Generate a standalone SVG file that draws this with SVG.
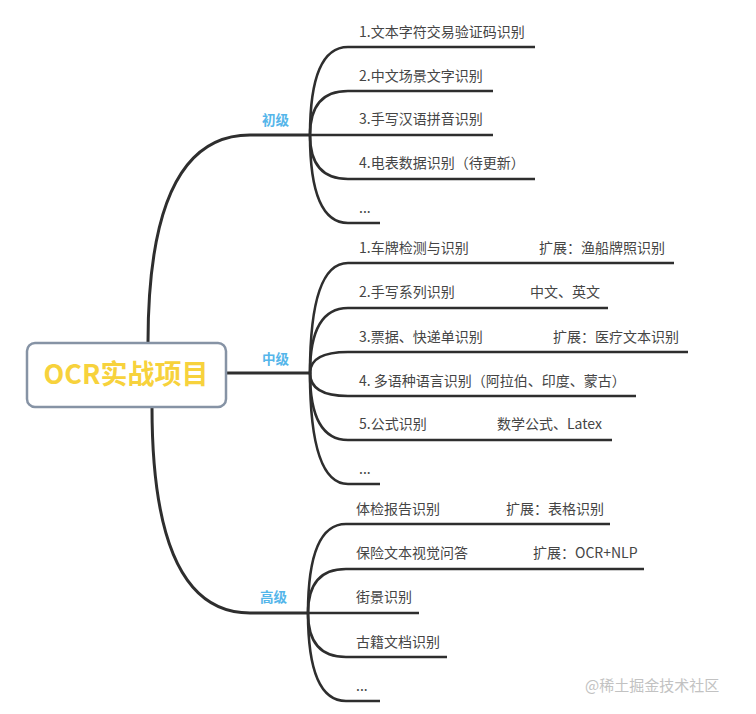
<svg xmlns="http://www.w3.org/2000/svg" width="756" height="714" viewBox="0 0 756 714">
<style>
.t{font-family:"Noto Sans CJK SC","Noto Sans",sans-serif;font-size:14px;fill:#454545}
.b{font-family:"Noto Sans CJK SC","Noto Sans",sans-serif;font-size:13.5px;font-weight:bold;fill:#55b6ea}
.m{fill:none;stroke:#2e2e2e;stroke-width:3;stroke-linecap:round}
.c{fill:none;stroke:#2e2e2e;stroke-width:2.6;stroke-linecap:butt}
</style>
<rect width="756" height="714" fill="#ffffff"/>
<g id="connectors">
<path class="m" d="M148,343 Q148,135 250,135 L310,135"/>
<path class="m" d="M226,373 L310,373"/>
<path class="m" d="M152,407 Q152,613 250,613 L308,613"/>
<path class="c" d="M310,135 Q310,47 348,47 L535,47"/>
<path class="c" d="M310,135 Q310,91 348,91 L493,91"/>
<path class="c" d="M310,135 L493,135"/>
<path class="c" d="M310,135 Q310,179 348,179 L535,179"/>
<path class="c" d="M310,135 Q310,223 348,223 L380,223"/>
<path class="c" d="M310,373 Q310,263 348,263 L674,263"/>
<path class="c" d="M310,373 Q310,308 348,308 L608,308"/>
<path class="c" d="M310,373 Q310,352 348,352 L688,352"/>
<path class="c" d="M310,373 Q310,396 348,396 L636,396"/>
<path class="c" d="M310,373 Q310,440 348,440 L612,440"/>
<path class="c" d="M310,373 Q310,484 348,484 L380,484"/>
<path class="c" d="M308,613 Q308,524 346,524 L610,524"/>
<path class="c" d="M308,613 Q308,569 346,569 L644,569"/>
<path class="c" d="M308,613 L419,613"/>
<path class="c" d="M308,613 Q308,657 346,657 L447,657"/>
<path class="c" d="M308,613 Q308,701 346,701 L380,701"/>
</g>
<g id="root">
<rect x="27" y="343" width="199" height="64" rx="8" fill="#ffffff" stroke="#8693a5" stroke-width="2.5"/>
<text x="126" y="384" text-anchor="middle" font-family="'Noto Sans CJK SC','Noto Sans',sans-serif" font-size="27" font-weight="bold" fill="#f7d23c">OCR实战项目</text>
</g>
<g id="n-chuji"><text class="b" x="262" y="125">初级</text></g>
<g id="n-zhongji"><text class="b" x="262" y="364">中级</text></g>
<g id="n-gaoji"><text class="b" x="260" y="602">高级</text></g>
<g id="c1-1"><text class="t" x="359" y="37">1.文本字符交易验证码识别</text></g>
<g id="c1-2"><text class="t" x="359" y="81">2.中文场景文字识别</text></g>
<g id="c1-3"><text class="t" x="359" y="124">3.手写汉语拼音识别</text></g>
<g id="c1-4"><text class="t" x="359" y="168">4.电表数据识别（待更新）</text></g>
<g id="c1-5"><text class="t" x="359" y="213">...</text></g>
<g id="c2-1"><text class="t" x="359" y="253">1.车牌检测与识别</text></g>
<g id="c2-1b"><text class="t" x="539" y="253">扩展：渔船牌照识别</text></g>
<g id="c2-2"><text class="t" x="359" y="297">2.手写系列识别</text></g>
<g id="c2-2b"><text class="t" x="530" y="297">中文、英文</text></g>
<g id="c2-3"><text class="t" x="359" y="342">3.票据、快递单识别</text></g>
<g id="c2-3b"><text class="t" x="553" y="342">扩展：医疗文本识别</text></g>
<g id="c2-4"><text class="t" x="359" y="386">4. 多语种语言识别（阿拉伯、印度、蒙古）</text></g>
<g id="c2-5"><text class="t" x="359" y="429">5.公式识别</text></g>
<g id="c2-5b"><text class="t" x="497" y="429">数学公式、Latex</text></g>
<g id="c2-6"><text class="t" x="359" y="474">...</text></g>
<g id="c3-1"><text class="t" x="356" y="514">体检报告识别</text></g>
<g id="c3-1b"><text class="t" x="506" y="514">扩展：表格识别</text></g>
<g id="c3-2"><text class="t" x="356" y="558">保险文本视觉问答</text></g>
<g id="c3-2b"><text class="t" x="533" y="558">扩展：OCR+NLP</text></g>
<g id="c3-3"><text class="t" x="356" y="602">街景识别</text></g>
<g id="c3-4"><text class="t" x="356" y="647">古籍文档识别</text></g>
<g id="c3-5"><text class="t" x="356" y="691">...</text></g>
<text x="585" y="691" font-family="'Noto Sans CJK SC','Noto Sans',sans-serif" font-size="15" fill="#c2c2c2">@稀土掘金技术社区</text>
</svg>
